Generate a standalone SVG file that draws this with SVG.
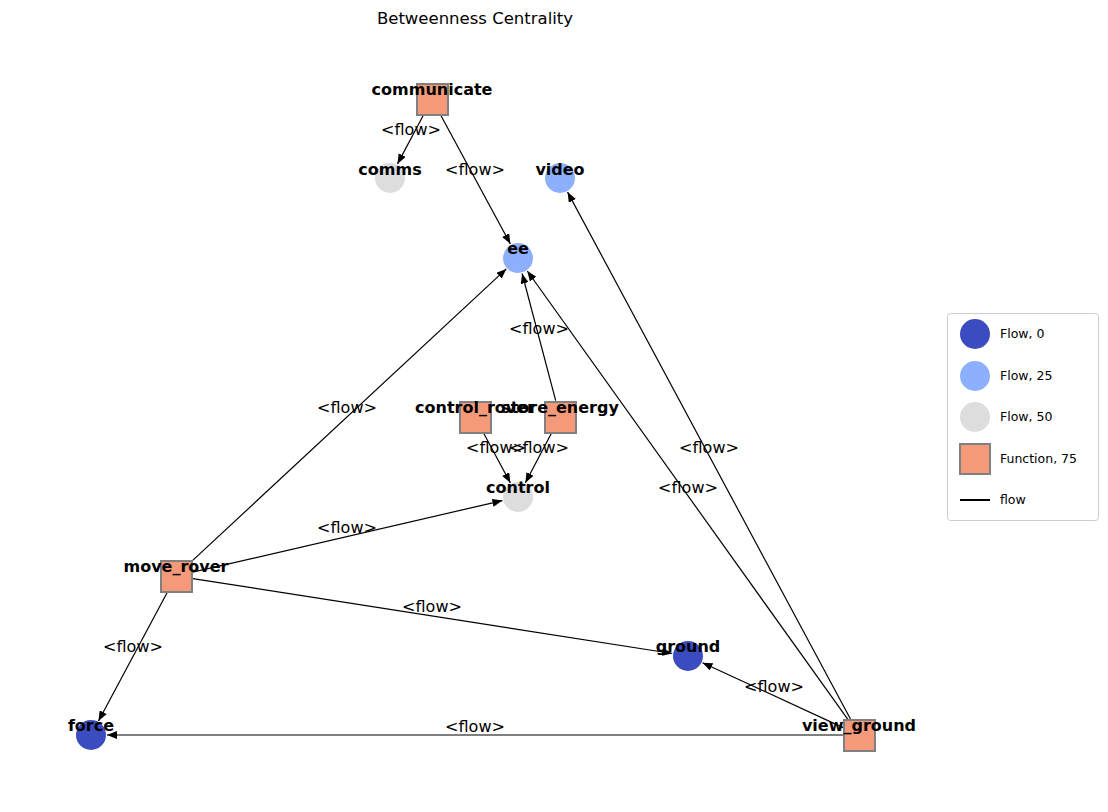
<svg xmlns="http://www.w3.org/2000/svg" width="1108" height="812" viewBox="0 0 1108 812">
<style>
.bg{fill:#ffffff}
.fn{fill:#f49a7b;stroke:#808080;stroke-width:2}
.f0{fill:#3b4cc0}
.f25{fill:#8db0fe}
.f50{fill:#dddddd}
.lbl{font-family:"DejaVu Sans",sans-serif;font-size:16px;font-weight:bold;text-anchor:middle;fill:#000}
.el{font-family:"DejaVu Sans",sans-serif;font-size:16px;text-anchor:middle;fill:#000}
.title{font-family:"DejaVu Sans",sans-serif;font-size:16.5px;text-anchor:middle;fill:#000}
.leg{font-family:"DejaVu Sans",sans-serif;font-size:12.5px;fill:#000}
.edge{stroke:#000;stroke-width:1.2;fill:none;marker-end:url(#ah)}
</style>
<defs>
<marker id="ah" markerUnits="userSpaceOnUse" markerWidth="10" markerHeight="8" refX="10" refY="4" orient="auto">
<path d="M0,0 L10,4 L0,8 z" fill="#000"/>
</marker>
</defs>
<rect class="bg" x="0" y="0" width="1108" height="812"/>
<text class="title" x="475" y="24">Betweenness Centrality</text>

<g id="edges">
<line class="edge" x1="424.0" y1="114.0" x2="397.5" y2="163.9"/>
<line class="edge" x1="440.1" y1="114.0" x2="510.4" y2="243.9"/>
<line class="edge" x1="851.0" y1="720.0" x2="567.6" y2="192.1"/>
<line class="edge" x1="849.1" y1="721.2" x2="527.3" y2="271.0"/>
<line class="edge" x1="555.7" y1="400.6" x2="522.1" y2="273.5"/>
<line class="edge" x1="188.4" y1="564.4" x2="506.3" y2="268.9"/>
<line class="edge" x1="483.0" y1="432.0" x2="510.4" y2="482.9"/>
<line class="edge" x1="552.1" y1="432.0" x2="525.4" y2="482.8"/>
<line class="edge" x1="192.6" y1="572.2" x2="502.4" y2="500.6"/>
<line class="edge" x1="192.8" y1="578.6" x2="672.2" y2="653.5"/>
<line class="edge" x1="168.0" y1="591.0" x2="98.5" y2="721.0"/>
<line class="edge" x1="843.6" y1="727.9" x2="702.5" y2="662.7"/>
<line class="edge" x1="843.0" y1="735" x2="107.0" y2="735"/>
</g>

<g id="nodes">
<g id="communicate"><rect class="fn" x="417" y="84" width="31" height="31"/><text class="lbl" x="432" y="95">communicate</text></g>
<g id="comms"><circle class="f50" cx="390" cy="178" r="15"/><text class="lbl" x="390" y="175">comms</text></g>
<g id="video"><circle class="f25" cx="560" cy="178" r="15"/><text class="lbl" x="560" y="175">video</text></g>
<g id="ee"><circle class="f25" cx="518" cy="258" r="15"/><text class="lbl" x="518" y="254">ee</text></g>
<g id="control_rover"><rect class="fn" x="460" y="402" width="31" height="31"/><text class="lbl" x="475" y="413">control_rover</text></g>
<g id="store_energy"><rect class="fn" x="545" y="402" width="31" height="31"/><text class="lbl" x="560" y="413">store_energy</text></g>
<g id="control"><circle class="f50" cx="518" cy="497" r="15"/><text class="lbl" x="518" y="493">control</text></g>
<g id="move_rover"><rect class="fn" x="161" y="561" width="31" height="31"/><text class="lbl" x="176" y="572">move_rover</text></g>
<g id="ground"><circle class="f0" cx="688" cy="656" r="15"/><text class="lbl" x="688" y="652">ground</text></g>
<g id="force"><circle class="f0" cx="91" cy="735" r="15"/><text class="lbl" x="91" y="731">force</text></g>
<g id="view_ground"><rect class="fn" x="844" y="720" width="31" height="31"/><text class="lbl" x="859" y="731">view_ground</text></g>
</g>

<g id="edge-labels">
<text class="el" x="411" y="135">&lt;flow&gt;</text>
<text class="el" x="475" y="175">&lt;flow&gt;</text>
<text class="el" x="709" y="453">&lt;flow&gt;</text>
<text class="el" x="688" y="493">&lt;flow&gt;</text>
<text class="el" x="539" y="334">&lt;flow&gt;</text>
<text class="el" x="347" y="413">&lt;flow&gt;</text>
<text class="el" x="496" y="453">&lt;flow&gt;</text>
<text class="el" x="539" y="453">&lt;flow&gt;</text>
<text class="el" x="347" y="533">&lt;flow&gt;</text>
<text class="el" x="432" y="612">&lt;flow&gt;</text>
<text class="el" x="133" y="652">&lt;flow&gt;</text>
<text class="el" x="774" y="692">&lt;flow&gt;</text>
<text class="el" x="475" y="732">&lt;flow&gt;</text>
</g>

<g id="legend">
<rect x="947.5" y="313.5" width="151" height="207" rx="3" fill="#fff" stroke="#cccccc" stroke-width="1"/>
<circle class="f0" cx="975" cy="334" r="15"/><text class="leg" x="1000" y="338">Flow, 0</text>
<circle class="f25" cx="975" cy="376" r="15"/><text class="leg" x="1000" y="380">Flow, 25</text>
<circle class="f50" cx="975" cy="417" r="15"/><text class="leg" x="1000" y="421">Flow, 50</text>
<rect class="fn" x="960" y="444" width="30" height="30"/><text class="leg" x="1000" y="463">Function, 75</text>
<line x1="960" y1="500" x2="990" y2="500" stroke="#000" stroke-width="2"/><text class="leg" x="1000" y="504">flow</text>
</g>
</svg>
